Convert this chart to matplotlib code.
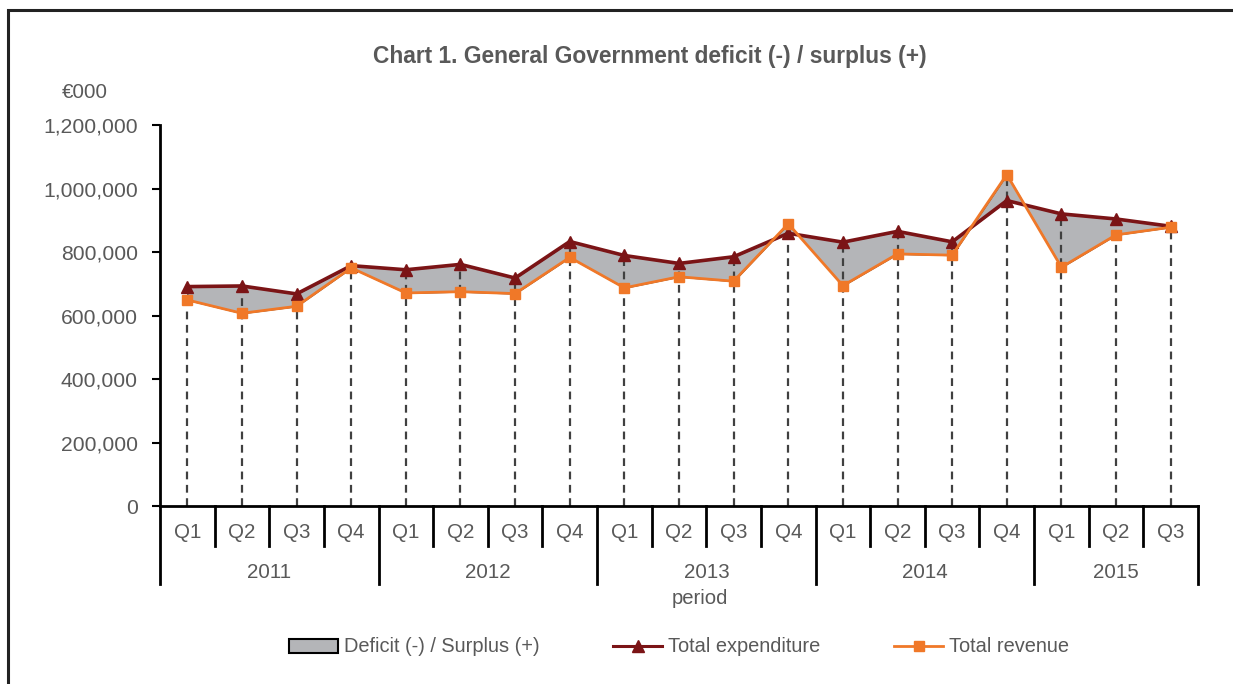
import matplotlib.pyplot as plt
from matplotlib.patches import Rectangle, Patch
from matplotlib.lines import Line2D

plt.rcParams['font.family'] = ['Liberation Sans', 'DejaVu Sans']

# data (EUR thousand)
quarters = ['Q1', 'Q2', 'Q3', 'Q4'] * 4 + ['Q1', 'Q2', 'Q3']
years = ['2011', '2012', '2013', '2014', '2015']
expenditure = [691000, 693000, 668000, 757000,
               744000, 761000, 718000, 833000,
               789000, 764000, 785000, 859000,
               831000, 865000, 832000, 962000,
               920000, 904000, 881000]
revenue = [649000, 607000, 629000, 750000,
           671000, 675000, 669000, 783000,
           687000, 722000, 708000, 889000,
           694000, 794000, 790000, 1044000,
           752000, 854000, 878000]

grey_txt = '#595959'
exp_col = '#7B1416'
rev_col = '#F07828'
fill_col = '#B4B5B8'

fig = plt.figure(figsize=(12.33, 6.84), dpi=100)
ax = fig.add_axes([160 / 1233, 1 - 506 / 684, 1038 / 1233, 381 / 684])

x = list(range(len(quarters)))

# deficit area between the two lines
ax.fill_between(x, expenditure, revenue, facecolor=fill_col,
                edgecolor='#303030', linewidth=0.8, zorder=1)

# drop lines
for i in x:
    top = max(expenditure[i], revenue[i])
    ax.plot([i, i], [0, top], color='#404040', lw=1.6, ls=(0, (3.5, 2.5)), zorder=2)

ax.plot(x, expenditure, color=exp_col, lw=2.6, marker='^', ms=8.5, zorder=3)
ax.plot(x, revenue, color=rev_col, lw=2.0, marker='s', ms=7.5, zorder=4)

ax.set_xlim(-0.5, len(x) - 0.5)
ax.set_ylim(0, 1200000)
ax.set_yticks(range(0, 1200001, 200000))
ax.set_yticklabels(['{:,}'.format(v) for v in range(0, 1200001, 200000)])
ax.tick_params(axis='y', length=6, width=1.5, pad=10, labelsize=15.2, labelcolor=grey_txt)
ax.set_xticks([])
for s in ['top', 'right']:
    ax.spines[s].set_visible(False)
for s in ['left', 'bottom']:
    ax.spines[s].set_linewidth(2)

# category axis: quarter and year separators
tr = ax.get_xaxis_transform()
h = 381
for b in range(len(x) + 1):
    pos = b - 0.5
    if b % 4 == 0 or b == len(x):
        ax.plot([pos, pos], [0, -78 / h], transform=tr, color='black', lw=2, clip_on=False)
    else:
        ax.plot([pos, pos], [0, -40 / h], transform=tr, color='black', lw=2, clip_on=False)
for i, q in enumerate(quarters):
    ax.text(i, -27 / h, q, transform=tr, ha='center', va='center', fontsize=14.8, color=grey_txt)
for j, yr in enumerate(years):
    start = j * 4 - 0.5
    end = min(start + 4, len(x) - 0.5)
    ax.text((start + end) / 2, -67 / h, yr, transform=tr, ha='center', va='center',
            fontsize=14.8, color=grey_txt)
fig.text(700 / 1233, 1 - 599 / 684, 'period', ha='center', va='center',
         fontsize=14.6, color=grey_txt)

fig.text(650 / 1233, 1 - 57 / 684, 'Chart 1. General Government deficit (-) / surplus (+)',
         ha='center', va='center', fontsize=16.4, fontweight='bold', color=grey_txt)
fig.text(85 / 1233, 1 - 92 / 684, '€000', ha='center', va='center', fontsize=14.8, color=grey_txt)

handles = [Patch(facecolor=fill_col, edgecolor='black', lw=1.5),
           Line2D([], [], color=exp_col, lw=2.2, marker='^', ms=8.5),
           Line2D([], [], color=rev_col, lw=2.0, marker='s', ms=7.5)]
labels = ['Deficit (-) / Surplus (+)', 'Total expenditure', 'Total revenue']
fig.legend(handles, labels, loc='center', bbox_to_anchor=(679 / 1233, 1 - 647 / 684),
           ncol=3, frameon=False, fontsize=14.4, labelcolor=grey_txt,
           handlelength=2.45, handletextpad=0.3, columnspacing=3.7)

# outer chart border
fig.patches.append(Rectangle((8 / 1233, -0.05), 1.2, 1.05 - 10 / 684, transform=fig.transFigure,
                             fill=False, edgecolor='#222222', lw=2.2))

plt.savefig('out.png')
